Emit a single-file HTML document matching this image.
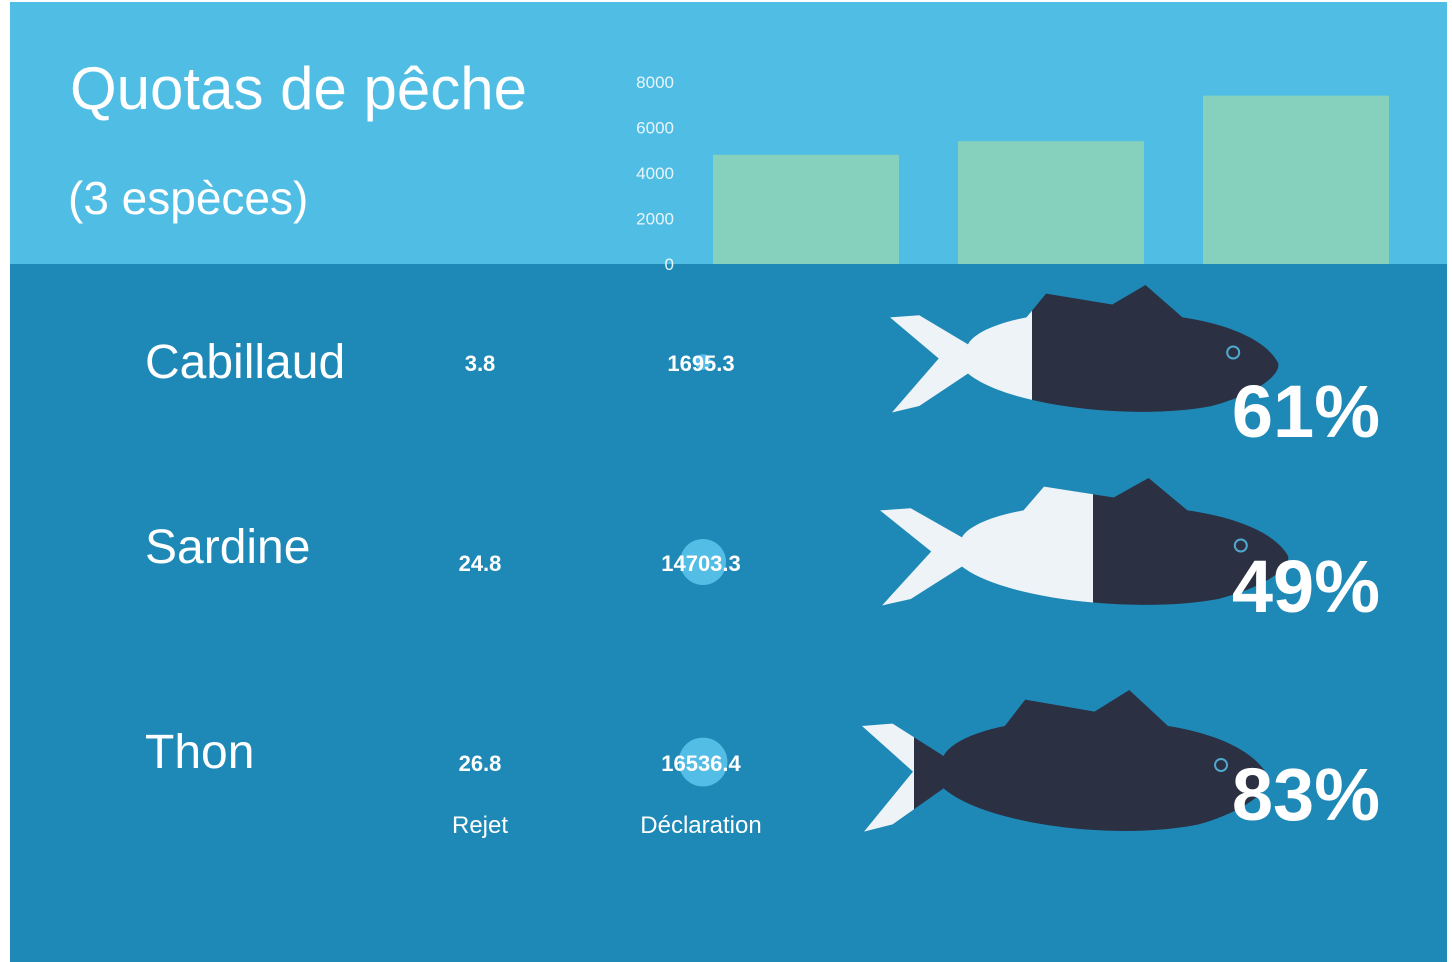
<!DOCTYPE html>
<html><head><meta charset="utf-8"><style>
html,body{margin:0;padding:0;background:#fff;}
svg{display:block;font-family:"Liberation Sans",sans-serif;}
</style></head><body>
<svg id="c" width="1452" height="962">
<rect x="10" y="2" width="1437" height="262" fill="#50BDE4"/>
<rect x="10" y="264" width="1437" height="698" fill="#1E89B7"/>
<text x="70" y="109" font-size="60" fill="#fff" font-weight="300">Quotas de pêche</text>
<text x="68" y="214" font-size="46" fill="#fff">(3 espèces)</text>
<g id="axis"></g><g id="bars"></g><g id="rows"></g><g id="fish"></g>
<text x="480" y="833" font-size="24" fill="#fff" text-anchor="middle">Rejet</text>
<text x="701" y="833" font-size="24" fill="#fff" text-anchor="middle">Déclaration</text>
</svg>
<script>
const ticks=[0,2000,4000,6000,8000];
const quotas=[4800,5400,7400];
const species=["Cabillaud","Sardine","Thon"];
const rejet=["3.8","24.8","26.8"];
const declaration=[1695.3,14703.3,16536.4];
const percents=[61,49,83];
const NS="http://www.w3.org/2000/svg";
function mk(t,a,p){const e=document.createElementNS(NS,t);for(const k in a)e.setAttribute(k,a[k]);p.appendChild(e);return e;}
const y=v=>264-v*182/8000;
const ax=document.getElementById('axis');
ticks.forEach(t=>{const e=mk('text',{x:674,y:y(t)+6,'font-size':17,fill:'#E8F6FC','text-anchor':'end'},ax);e.textContent=t;

});
const bg=document.getElementById('bars');
quotas.forEach((v,i)=>{const r=mk('rect',{x:713+i*245,y:y(v),width:186,height:264-y(v),fill:'#86D0BE'},bg);

});
const rg=document.getElementById('rows');
const rowY=[362,562,762],nameY=[378,563,768];
species.forEach((s,i)=>{
 const n=mk('text',{x:145,y:nameY[i],'font-size':48,fill:'#fff'},rg);n.textContent=s;
 
 
 const c=mk('circle',{cx:703,cy:rowY[i],r:0.19*Math.sqrt(declaration[i]),fill:'#53BDE6'},rg);
 
 
 const a=mk('text',{x:480,y:rowY[i]+9,'font-size':22,'font-weight':'bold',fill:'#fff','text-anchor':'middle'},rg);a.textContent=rejet[i];
 
 
 const d=mk('text',{x:701,y:rowY[i]+9,'font-size':22,'font-weight':'bold',fill:'#fff','text-anchor':'middle'},rg);d.textContent=declaration[i];
 
 
});
const fg=document.getElementById('fish');
const fishPath="M0,30 L50,68 L2,118 L30,112 L80,82 C120,112 250,126 330,112 C372,102 402,84 398,72 C385,50 345,36 300,30 L262,0 L228,18 L160,8 L140,30 C105,36 85,46 80,55 L30,28 Z";
const fishBox=[[890,285,390,135],[880,478,410,135],[862,690,408,150]];
const splitX=[1032,1093,914];
const pctY=[437,612,820];
fishBox.forEach((b,i)=>{
 const sx=b[2]/400,sy=b[3]/125;
 const cp=mk('clipPath',{id:'cl'+i},fg);mk('rect',{x:0,y:0,width:splitX[i],height:962},cp);
 const cd=mk('clipPath',{id:'cd'+i},fg);mk('rect',{x:splitX[i],y:0,width:600,height:962},cd);
 const g1=mk('g',{'clip-path':'url(#cl'+i+')'},fg);
 const p1=mk('path',{d:fishPath,fill:'#EEF3F8',transform:`translate(${b[0]},${b[1]}) scale(${sx},${sy})`},g1);
 
 
 const g2=mk('g',{'clip-path':'url(#cd'+i+')'},fg);
 const p2=mk('path',{d:fishPath,fill:'#2B3042',transform:`translate(${b[0]},${b[1]}) scale(${sx},${sy})`},g2);
 
 
 const eye=mk('circle',{cx:b[0]+b[2]*0.88,cy:b[1]+b[3]*0.5,r:6,fill:'none',stroke:'#4FA9CF','stroke-width':2},fg);
 
 
 const t=mk('text',{x:1380,y:pctY[i],'font-size':74,'font-weight':'bold',fill:'#fff','text-anchor':'end'},fg);t.textContent=percents[i]+'%';
 
 
});
</script>
</body></html>
